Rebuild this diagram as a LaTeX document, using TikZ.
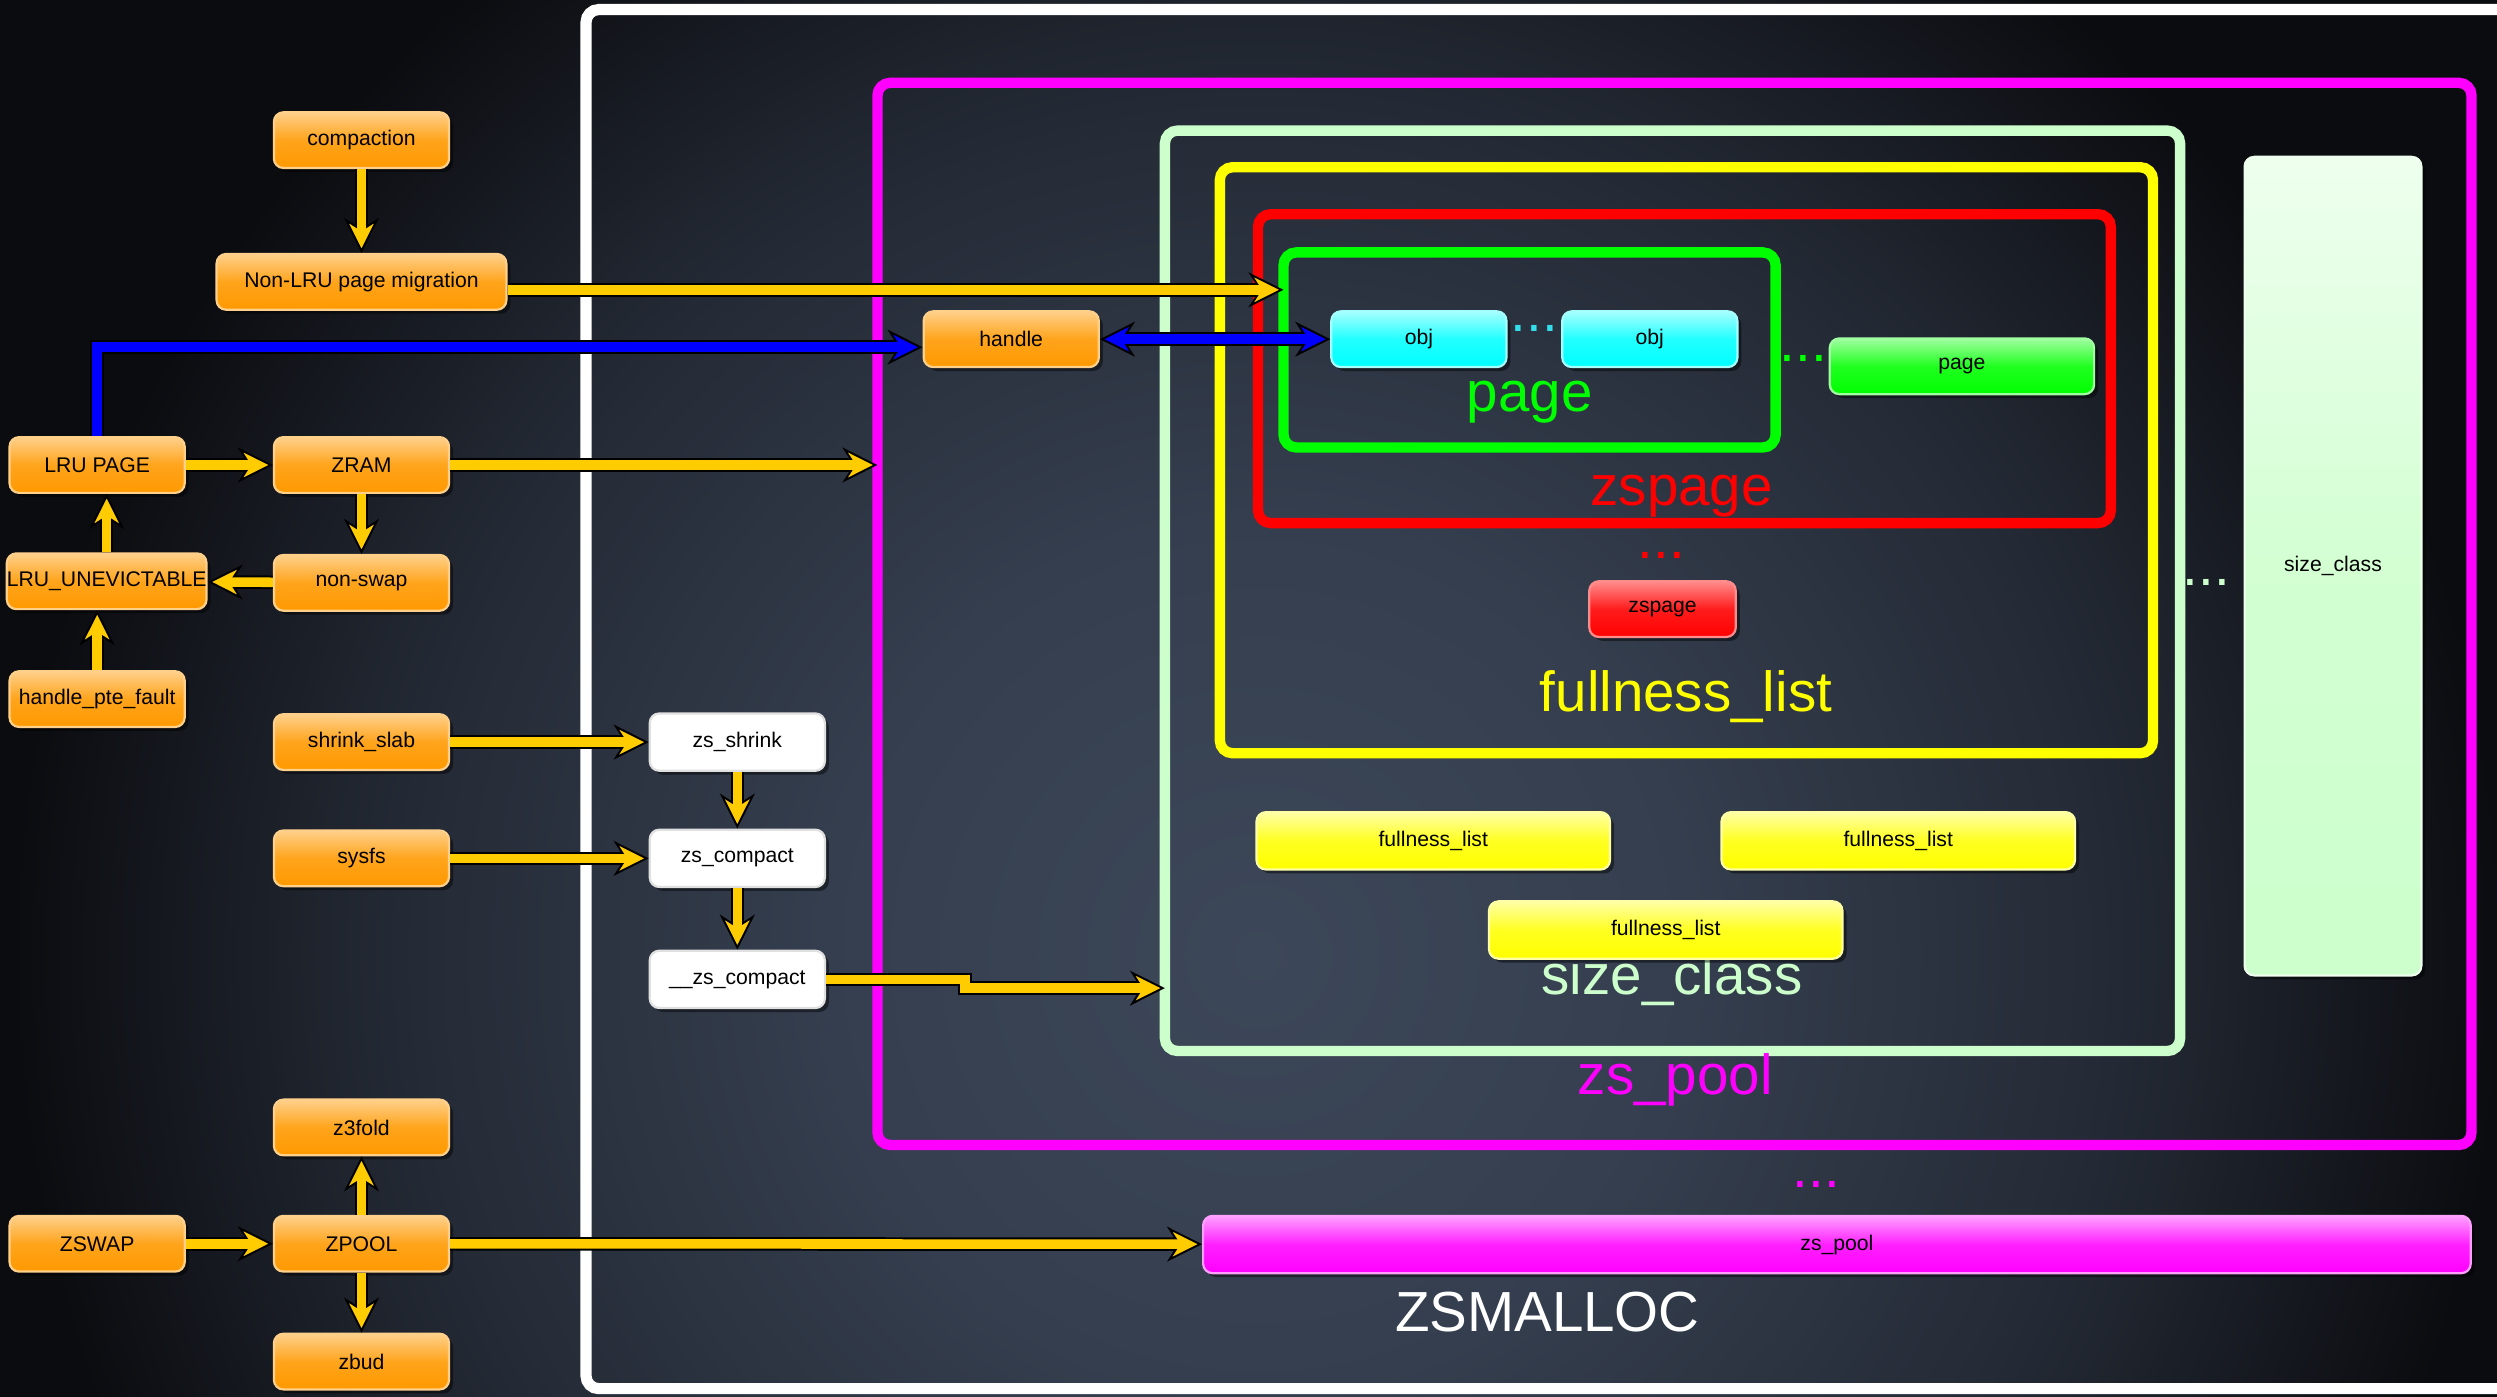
\documentclass[tikz,border=0pt]{standalone}
\usepackage{fontspec}
\setmainfont{Liberation Sans}
\usetikzlibrary{arrows.meta,shadows}

\definecolor{bgdark}{HTML}{0B0C10}
\definecolor{bgmid}{HTML}{3C4759}
\definecolor{flowy}{HTML}{FFCC00}
\definecolor{flowb}{HTML}{0000FF}
\definecolor{orgtop}{HTML}{FFD08A}
\definecolor{orgbot}{HTML}{FF9900}
\definecolor{cyntop}{HTML}{A6FFFF}
\definecolor{cynbot}{HTML}{00FFFF}
\definecolor{cyndot}{HTML}{33DDEE}
\definecolor{grntop}{HTML}{A0FFA0}
\definecolor{grnbot}{HTML}{00FF00}
\definecolor{redtop}{HTML}{FF8C8C}
\definecolor{redbot}{HTML}{FF0000}
\definecolor{ylwtop}{HTML}{FFFFA6}
\definecolor{ylwbot}{HTML}{FFFF00}
\definecolor{pgtop}{HTML}{EEFFEE}
\definecolor{pgbot}{HTML}{CCFFCC}
\definecolor{magtop}{HTML}{FFA0FF}
\definecolor{magbot}{HTML}{FF00FF}

% 25bp of the shading = radius of the shaded circle
\pgfdeclareradialshading{bgglow}{\pgfpoint{0bp}{0bp}}{%
  color(0bp)=(bgmid); color(8bp)=(bgmid!85!bgdark); color(16bp)=(bgmid!50!bgdark);
  color(23bp)=(bgdark); color(50bp)=(bgdark)}

\newcommand\boxfont{\fontsize{13.3}{15}\selectfont}
\newcommand\titlefont{\fontsize{35.5}{40}\selectfont}

\tikzset{
  glossy/.style 2 args={rectangle, rounded corners=6pt, minimum width=110pt, minimum height=35pt,
    inner sep=1pt, top color=#1, bottom color=#2, middle color=#2!80!#1, draw=#1, line width=1.4pt,
    text=black, font=\boxfont,
    drop shadow={shadow xshift=2.5pt, shadow yshift=-2.5pt, opacity=.45, fill=black}},
  obox/.style={glossy={orgtop}{orgbot}},
  wbox/.style={glossy={white}{white}, draw=black!12, minimum height=36pt},
  cbox/.style={glossy={cyntop}{cynbot}},
  gbox/.style={glossy={grntop}{grnbot}},
  rbox/.style={glossy={redtop}{redbot}},
  ybox/.style={glossy={ylwtop}{ylwbot}, minimum height=36pt},
  pbox/.style={glossy={pgtop}{pgbot}},
  mbox/.style={glossy={magtop}{magbot}},
  zframe/.style={draw=#1, line width=6.5pt, rounded corners=8pt, outer sep=0pt, inner sep=0pt,
    anchor=north west},
  bigtxt/.style={text=#1, font=\titlefont, inner sep=0pt, anchor=base},
  moredots/.style={text=#1, font=\titlefont, inner sep=0pt},
  flow/.style={draw=black, line width=8.5pt,
    -{Stealth[length=22pt, width=22pt, inset=7pt, line width=1.2pt, fill=#1]},
    postaction={draw=#1, line width=6pt, -, shorten >=13pt}},
  flow/.default=flowy,
  flowboth/.style={draw=black, line width=8.5pt,
    {Stealth[length=22pt, width=22pt, inset=7pt, line width=1.2pt, fill=#1]}-{Stealth[length=22pt, width=22pt, inset=7pt, line width=1.2pt, fill=#1]},
    postaction={draw=#1, line width=6pt, -, shorten >=13pt, shorten <=13pt}},
  flowboth/.default=flowy,
}

\begin{document}
\begin{tikzpicture}[x=1pt, y=-1pt]
  \useasboundingbox (0,0) rectangle (1568,877);
  \clip (0,0) rectangle (1568,877);
  % background
  \fill[bgdark] (0,0) rectangle (1568,877);
  \shade[shading=bgglow] (790,600) circle (850pt);

  % nested frames
  \draw[white, line width=7pt, rounded corners=8pt] (368,6) rectangle (1600,872);
  \node[zframe=magbot, minimum width=1001pt, minimum height=667pt] (poolframe) at (551,52) {};
  \node[zframe=pgbot, minimum width=637.5pt, minimum height=578pt] (classframe) at (731.5,82) {};
  \node[zframe=ylwbot, minimum width=586pt, minimum height=368pt] (listframe) at (766,105) {};
  \node[zframe=redbot, minimum width=535.5pt, minimum height=194pt] (zspframe) at (790,134.5) {};
  \node[zframe=grnbot, minimum width=309pt, minimum height=122.5pt] (pageframe) at (806,158.5) {};

  % frame titles
  \node[bigtxt=grnbot] (pagettl) at (960.6,258.5) {page};
  \node[bigtxt=redbot] (zspttl) at (1056,317.6) {zspage};
  \node[bigtxt=ylwbot] (flistttl) at (1058.7,446.6) {fullness\_list};
  \node[bigtxt=pgbot] (sclassttl) at (1050,624.6) {size\_class};
  \node[bigtxt=magbot] (zspoolttl) at (1052,687.6) {zs\_pool};
  \node[bigtxt=white] (zsmttl) at (971.7,836.2) {ZSMALLOC};

  % callers
  \node[obox] (compaction) at (227,88) {compaction};
  \node[obox, minimum width=182pt] (nonlru) at (227,177) {Non-LRU page migration};
  \node[obox] (lrupage) at (61,292) {LRU PAGE};
  \node[obox] (zram) at (227,292) {ZRAM};
  \node[obox, minimum width=122pt, inner xsep=0pt] (lruunev) at (67,365) {LRU\_UNEVICTABLE};
  \node[obox] (nonswap) at (227,366) {non-swap};
  \node[obox] (hpf) at (61,439) {handle\_pte\_fault};
  \node[obox] (shrink) at (227,466) {shrink\_slab};
  \node[obox] (sysfs) at (227,539) {sysfs};
  \node[obox] (z3fold) at (227,708) {z3fold};
  \node[obox] (zswap) at (61,781) {ZSWAP};
  \node[obox] (zpool) at (227,781) {ZPOOL};
  \node[obox] (zbud) at (227,855) {zbud};
  \node[obox] (handle) at (635,213) {handle};

  % compaction path
  \node[wbox] (zsshrink) at (463,466) {zs\_shrink};
  \node[wbox] (zscompact) at (463,539) {zs\_compact};
  \node[wbox] (zscompact2) at (463,615) {\_\_zs\_compact};

  % zsmalloc objects
  \node[cbox] (obj1) at (891,213) {obj};
  \node[cbox] (obj2) at (1036,213) {obj};
  \node[gbox, minimum width=166pt] (pagebox) at (1232,230) {page};
  \node[rbox, minimum width=92pt] (zspbox) at (1044,382.5) {zspage};
  \node[ybox, minimum width=222pt] (flist1) at (900,528) {fullness\_list};
  \node[ybox, minimum width=222pt] (flist2) at (1192,528) {fullness\_list};
  \node[ybox, minimum width=222pt] (flist3) at (1046,584) {fullness\_list};
  \node[pbox, minimum width=111pt, minimum height=514pt] (sclass) at (1465,355.5) {size\_class};
  \node[mbox, minimum width=796pt, minimum height=36pt] (zspoolbox) at (1153.5,781.5) {zs\_pool};

  \node[moredots=cyndot] (objdots) at (963.5,206) {...};
  \node[moredots=grnbot] (pagedots) at (1132.4,225.4) {...};
  \node[moredots=redbot] (zspdots) at (1043.3,349) {...};
  \node[moredots=pgbot] (classdots) at (1385.5,365.5) {...};
  \node[moredots=magbot] (pooldots) at (1140.5,743.5) {...};

  % arrows
  \coordinate (migr) at ([yshift=-5pt]nonlru.east);
  \coordinate (hdin) at ([yshift=-5pt]handle.west);
  \coordinate (jog) at (606,620.5);
  \draw[flow] (compaction) -- (nonlru);
  \draw[flow] (migr) -- (migr -| pageframe.west);
  \draw[flow] (lrupage) -- (zram);
  \draw[flow] (zram) -- (zram -| poolframe.west);
  \draw[flow] (zram) -- (nonswap);
  \draw[flow] (nonswap) -- (lruunev);
  \draw[flow] (lruunev.north) -- (lruunev.north |- lrupage.south);
  \draw[flow] (hpf.north) -- (hpf.north |- lruunev.south);
  \draw[flow] (shrink) -- (zsshrink);
  \draw[flow] (sysfs) -- (zscompact);
  \draw[flow] (zsshrink) -- (zscompact);
  \draw[flow] (zscompact) -- (zscompact2);
  \draw[flow] (zscompact2.east) -- (zscompact2.east -| jog) -- (jog) -- (jog -| classframe.west);
  \draw[flow] (zswap) -- (zpool);
  \draw[flow] (zpool) -- (z3fold);
  \draw[flow] (zpool) -- (zbud);
  \draw[flow] (zpool) -- (zspoolbox);
  \draw[flow=flowb] (lrupage.north) |- (hdin);
  \draw[flowboth=flowb] (handle) -- (obj1);
\end{tikzpicture}
\end{document}
